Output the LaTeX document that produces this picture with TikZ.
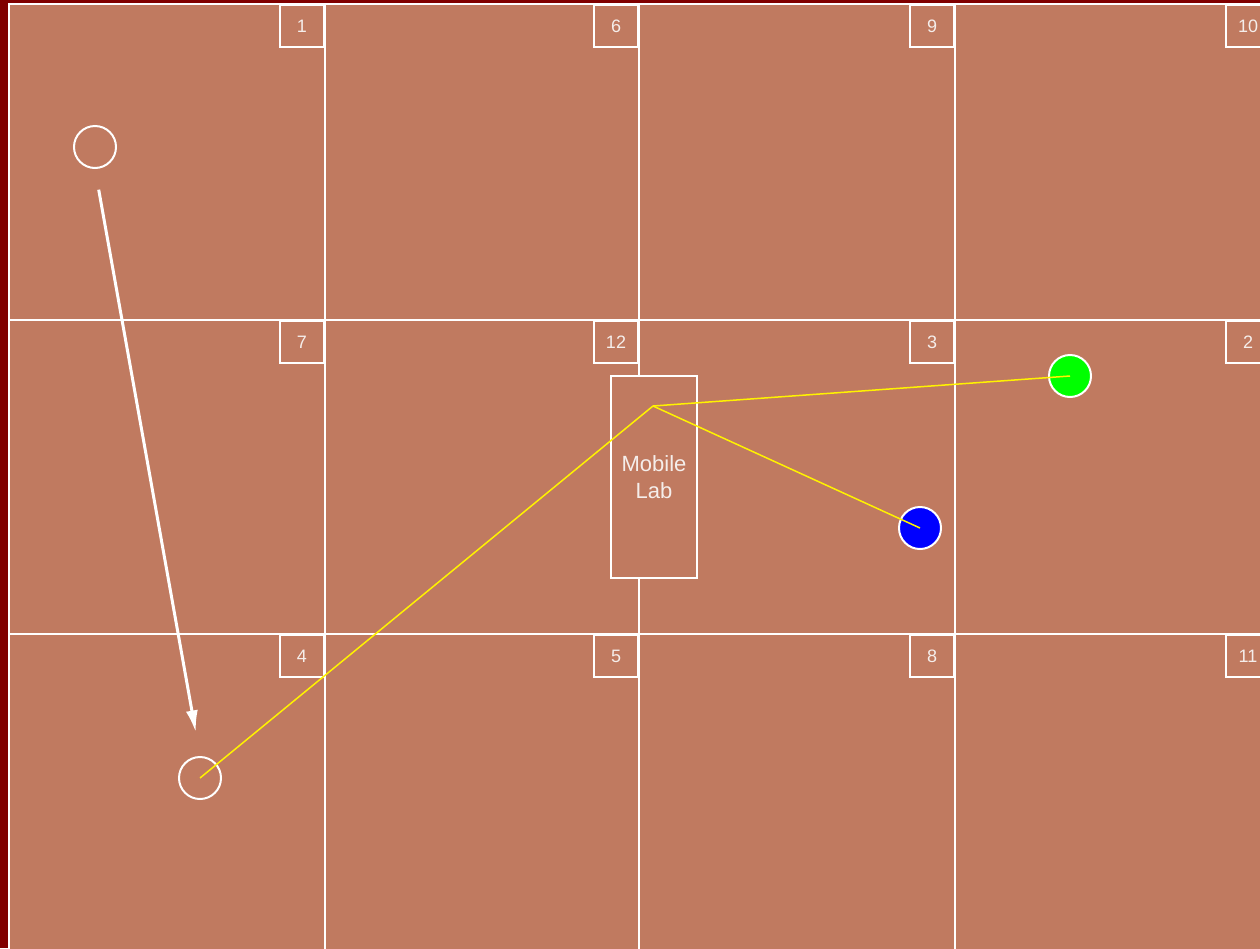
\documentclass[tikz,border=0pt]{standalone}
\usepackage{fontspec}
\setmainfont{Liberation Sans}
\usetikzlibrary{arrows.meta}
\definecolor{floor}{RGB}{192,122,96}
\definecolor{frame}{RGB}{128,0,0}
\definecolor{labeltext}{RGB}{245,238,235}
\tikzset{
  wall/.style={white,line width=2pt},
  roombox/.style={draw=white,line width=2pt,minimum width=44pt,minimum height=42pt,
    inner sep=0pt,anchor=north east,text=labeltext,font=\fontsize{18}{20}\selectfont},
  marker/.style={circle,draw=white,line width=2pt,minimum size=42pt,inner sep=0pt},
  link/.style={yellow,line width=1.5pt}
}

\begin{document}
\begin{tikzpicture}[x=1pt,y=-1pt,>={Latex[length=22pt,width=12pt]}]
    \fill[frame] (0,0) rectangle (1260,948);
    \useasboundingbox (0,0) rectangle (1260,948);
    \fill[floor] (9,4) rectangle (1262,950);
    \draw[wall] (9,950) -- (9,4) -- (1262,4);
    \foreach \x in {325,639,955} \draw[wall] (\x,4) -- (\x,950);
    \foreach \y in {320,634} \draw[wall] (9,\y) -- (1262,\y);
    % room numbers
    \foreach \num/\x/\y in {1/325/4,6/639/4,9/955/4,10/1271/4,
                            7/325/320,12/639/320,3/955/320,2/1271/320,
                            4/325/634,5/639/634,8/955/634,11/1271/634}
      \node[roombox] (room\num) at (\x,\y) {\num};
    \node[draw=white,line width=2pt,fill=floor,minimum width=86pt,minimum height=202pt,
      align=center,text=labeltext,font=\fontsize{22}{27}\selectfont] (lab) at (654,477) {Mobile\\Lab};
    \coordinate (hub) at (653,406);
    \node[marker] (start) at (95,147) {};
    \node[marker] (target) at (200,778) {};
    \node[marker,fill=green] (green) at (1070,376) {};
    \node[marker,fill=blue] (blue) at (920,528) {};
    \draw[->,white,line width=3pt,shorten <=21pt,shorten >=24pt] (start.south) -- (target.north);
    \draw[link] (hub) -- (green.center);
    \draw[link] (hub) -- (blue.center);
    \draw[link] (hub) -- (target.center);
\end{tikzpicture}
\end{document}
